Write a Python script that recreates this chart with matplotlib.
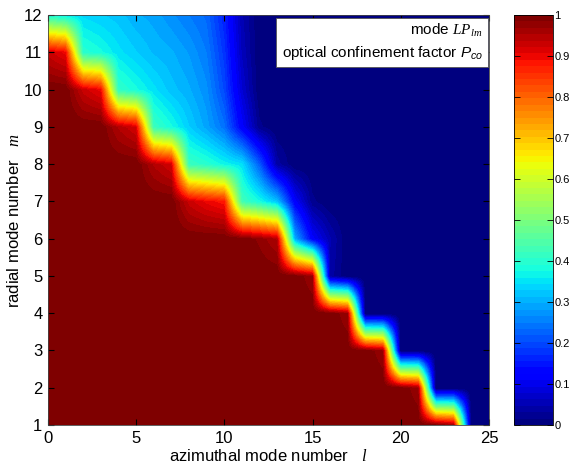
import numpy as np
import matplotlib
matplotlib.use('Agg')
import matplotlib.pyplot as plt

plt.rcParams['font.family'] = 'Liberation Sans'
plt.rcParams['mathtext.fontset'] = 'custom'
plt.rcParams['mathtext.rm'] = 'Liberation Sans'
plt.rcParams['mathtext.it'] = 'Liberation Serif:italic'
plt.rcParams['mathtext.sf'] = 'Liberation Sans:italic'

# azimuthal mode number l (columns) and radial mode number m (rows)
l_vals = np.arange(0, 26)
m_vals = np.arange(1, 13)

# optical confinement factor P_co, one list per radial mode m, l = 0..25
p_m1 = [1, 1, 1, 1, 1, 1, 1, 1, 1, 1, 1, 1, 1, 1, 1, 1, 1, 1, 1, 1, 1, 1, 1, 0.97, 0, 0]
p_m2 = [1, 1, 1, 1, 1, 1, 1, 1, 1, 1, 1, 1, 1, 1, 1, 1, 1, 1, 1, 1, 1, 0.97, 0, 0, 0, 0]
p_m3 = [1, 1, 1, 1, 1, 1, 1, 1, 1, 1, 1, 1, 1, 1, 1, 1, 1, 1, 1, 0.97, 0, 0, 0, 0, 0, 0]
p_m4 = [1, 1, 1, 1, 1, 1, 1, 1, 1, 1, 1, 1, 1, 1, 1, 1, 1, 0.97, 0, 0, 0, 0, 0, 0, 0, 0]
p_m5 = [1, 1, 1, 1, 1, 1, 1, 1, 1, 1, 1, 1, 1, 1, 1, 0.97, 0.04, 0, 0, 0, 0, 0, 0, 0, 0, 0]
p_m6 = [1, 1, 1, 1, 1, 1, 1, 1, 1, 1, 1, 1, 0.98, 0.95, 0.3, 0.12, 0.05, 0, 0, 0, 0, 0, 0, 0, 0, 0]
p_m7 = [1, 1, 1, 1, 1, 1, 1, 1, 0.93, 0.9, 0.88, 0.43, 0.38, 0.32, 0.12, 0.02, 0, 0, 0, 0, 0, 0, 0, 0, 0, 0]
p_m8 = [1, 1, 1, 1, 1, 1, 0.95, 0.92, 0.42, 0.4, 0.37, 0.35, 0.22, 0.04, 0, 0, 0, 0, 0, 0, 0, 0, 0, 0, 0, 0]
p_m9 = [1, 1, 1, 1, 0.95, 0.92, 0.42, 0.38, 0.33, 0.29, 0.24, 0.12, 0.02, 0, 0, 0, 0, 0, 0, 0, 0, 0, 0, 0, 0, 0]
p_m10 = [1, 1, 0.93, 0.9, 0.41, 0.38, 0.35, 0.32, 0.3, 0.27, 0.2, 0.08, 0, 0, 0, 0, 0, 0, 0, 0, 0, 0, 0, 0, 0, 0]
p_m11 = [0.93, 0.9, 0.4, 0.38, 0.35, 0.33, 0.31, 0.3, 0.28, 0.25, 0.18, 0.06, 0, 0, 0, 0, 0, 0, 0, 0, 0, 0, 0, 0, 0, 0]
p_m12 = [0.39, 0.36, 0.34, 0.33, 0.32, 0.3, 0.29, 0.27, 0.25, 0.23, 0.16, 0.05, 0, 0, 0, 0, 0, 0, 0, 0, 0, 0, 0, 0, 0, 0]

x_ticks = [0, 5, 10, 15, 20, 25]
y_ticks = list(range(1, 13))
cbar_ticks = [0, 0.1, 0.2, 0.3, 0.4, 0.5, 0.6, 0.7, 0.8, 0.9, 1]
cbar_labels = ['0', '0.1', '0.2', '0.3', '0.4', '0.5', '0.6', '0.7', '0.8', '0.9', '1']

P = np.array([p_m1, p_m2, p_m3, p_m4, p_m5, p_m6, p_m7, p_m8, p_m9, p_m10, p_m11, p_m12])

W, H = 569, 468
fig = plt.figure(figsize=(W / 100, H / 100), dpi=100)
ax = fig.add_axes([48 / W, 1 - 425 / H, 441 / W, 410 / H])
cax = fig.add_axes([514 / W, 1 - 425 / H, 39 / W, 410 / H])

# MATLAB-like interpolated shading: grid nodes sit on integer l, m
img = ax.imshow(P, origin='lower', aspect='auto', cmap=plt.get_cmap('jet', 64),
                vmin=0, vmax=1, interpolation='bilinear', interpolation_stage='data',
                extent=(l_vals[0] - 0.5, l_vals[-1] + 0.5, m_vals[0] - 0.5, m_vals[-1] + 0.5))
ax.set_xlim(0, 25)
ax.set_ylim(1, 12)
ax.set_xticks(x_ticks)
ax.set_yticks(y_ticks)
ax.tick_params(direction='in', labelsize=12, top=True, right=True, length=4, pad=4)
for s in ax.spines.values():
    s.set_linewidth(0.6)
    s.set_color('#444444')

ax.set_xlabel(r'azimuthal mode number   $l$', fontsize=12, labelpad=2)
ax.set_ylabel(r'radial mode number   $m$', fontsize=12, labelpad=1)

ax.text(0.986, 0.982, 'mode $LP_{lm}$\noptical confinement factor $\\mathsf{P}_{\\mathsf{co}}$',
        transform=ax.transAxes, ha='right', va='top', fontsize=11, multialignment='right',
        linespacing=1.35,
        bbox=dict(boxstyle='square,pad=0.35', fc='white', ec='#555555', lw=0.6))

cb = fig.colorbar(img, cax=cax, ticks=cbar_ticks)
cb.ax.set_yticklabels(cbar_labels)
cb.ax.tick_params(direction='in', labelsize=8, length=4, pad=1, left=True, right=True, width=0.6)
cb.outline.set_linewidth(0.6)

fig.savefig('out.png', dpi=100)
